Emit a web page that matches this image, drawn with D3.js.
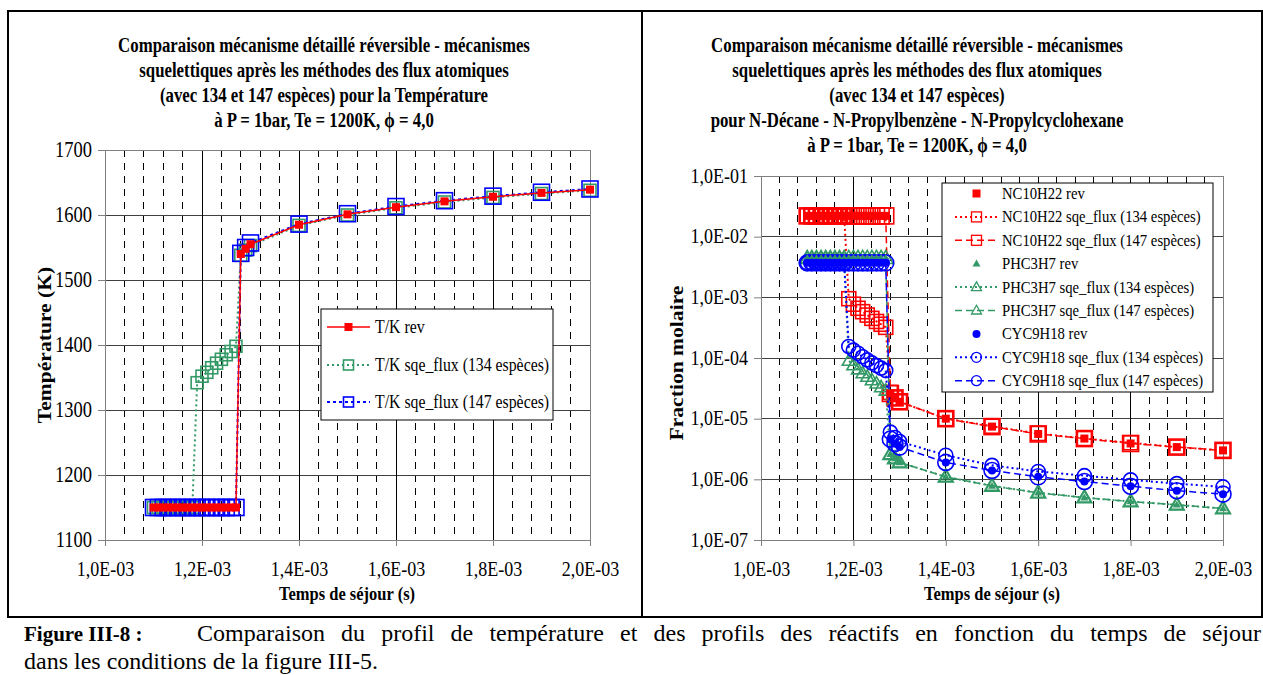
<!DOCTYPE html>
<html><head><meta charset="utf-8">
<script src="https://cdn.jsdelivr.net/npm/d3@7"></script>
<style>
body{margin:0;background:#fff}
svg{display:block}
text{font-family:"Liberation Serif","Times New Roman",serif;fill:#000}
</style>
</head><body>
<svg id="c" width="1263" height="675"></svg>
<script>
// ---------- data ----------
const time = [1.10e-3,1.11e-3,1.12e-3,1.13e-3,1.14e-3,1.15e-3,1.16e-3,1.17e-3,1.18e-3,1.19e-3,1.20e-3,1.21e-3,1.22e-3,1.23e-3,1.24e-3,1.25e-3,1.26e-3,1.27e-3,1.28e-3,1.29e-3,1.30e-3,1.40e-3,1.50e-3,1.60e-3,1.70e-3,1.80e-3,1.90e-3,2.00e-3];

const tempRev = [1150,1150,1150,1150,1150,1150,1150,1150,1150,1150,1150,1150,1150,1150,1150,1150,1150,1150,1540,1548,1555,1585,1601,1612,1621,1628,1634,1639];
const temp134 = [1150,1150,1150,1150,1150,1150,1150,1150,1150,1342,1352,1358,1365,1372,1378,1385,1390,1398,1538,1546,1553,1584,1600,1611,1620,1627,1633,1638];
const temp147 = [1150,1150,1150,1150,1150,1150,1150,1150,1150,1150,1150,1150,1150,1150,1150,1150,1150,1150,1541,1550,1557,1586,1602,1613,1622,1629,1635,1640];

const nc10Rev = [2.2e-2,2.2e-2,2.2e-2,2.2e-2,2.2e-2,2.2e-2,2.2e-2,2.2e-2,2.2e-2,2.2e-2,2.2e-2,2.2e-2,2.2e-2,2.2e-2,2.2e-2,2.2e-2,2.2e-2,2.2e-2,2.6e-5,2.2e-5,1.9e-5,1.0e-5,7.4e-6,5.6e-6,4.7e-6,3.9e-6,3.4e-6,3.0e-6];
const nc10_134 = [2.2e-2,2.2e-2,2.2e-2,2.2e-2,2.2e-2,2.2e-2,2.2e-2,2.2e-2,2.2e-2,9.5e-4,7.7e-4,6.6e-4,5.8e-4,5.1e-4,4.5e-4,4.0e-4,3.6e-4,3.2e-4,2.7e-5,2.2e-5,1.9e-5,1.0e-5,7.5e-6,5.7e-6,4.7e-6,4.0e-6,3.4e-6,3.0e-6];
const nc10_147 = [2.2e-2,2.2e-2,2.2e-2,2.2e-2,2.2e-2,2.2e-2,2.2e-2,2.2e-2,2.2e-2,2.2e-2,2.2e-2,2.2e-2,2.2e-2,2.2e-2,2.2e-2,2.2e-2,2.2e-2,2.2e-2,2.6e-5,2.2e-5,1.9e-5,1.0e-5,7.4e-6,5.6e-6,4.7e-6,3.9e-6,3.4e-6,3.0e-6];

const phRev = [4.4e-3,4.4e-3,4.4e-3,4.4e-3,4.4e-3,4.4e-3,4.4e-3,4.4e-3,4.4e-3,4.4e-3,4.4e-3,4.4e-3,4.4e-3,4.4e-3,4.4e-3,4.4e-3,4.4e-3,4.4e-3,2.6e-6,2.2e-6,1.9e-6,1.1e-6,7.8e-7,6.0e-7,5.0e-7,4.3e-7,3.8e-7,3.3e-7];
const ph_134 = [4.4e-3,4.4e-3,4.4e-3,4.4e-3,4.4e-3,4.4e-3,4.4e-3,4.4e-3,4.4e-3,9.0e-5,7.6e-5,6.5e-5,5.6e-5,4.9e-5,4.3e-5,3.8e-5,3.3e-5,2.9e-5,2.6e-6,2.2e-6,1.9e-6,1.1e-6,7.8e-7,6.0e-7,5.0e-7,4.3e-7,3.8e-7,3.3e-7];
const ph_147 = [4.4e-3,4.4e-3,4.4e-3,4.4e-3,4.4e-3,4.4e-3,4.4e-3,4.4e-3,4.4e-3,4.4e-3,4.4e-3,4.4e-3,4.4e-3,4.4e-3,4.4e-3,4.4e-3,4.4e-3,4.4e-3,2.6e-6,2.2e-6,1.9e-6,1.1e-6,7.8e-7,6.0e-7,5.0e-7,4.3e-7,3.8e-7,3.3e-7];

const cyRev = [3.7e-3,3.7e-3,3.7e-3,3.7e-3,3.7e-3,3.7e-3,3.7e-3,3.7e-3,3.7e-3,3.7e-3,3.7e-3,3.7e-3,3.7e-3,3.7e-3,3.7e-3,3.7e-3,3.7e-3,3.7e-3,4.6e-6,3.9e-6,3.4e-6,1.9e-6,1.4e-6,1.1e-6,9.2e-7,7.7e-7,6.5e-7,5.7e-7];
const cy_134 = [3.7e-3,3.7e-3,3.7e-3,3.7e-3,3.7e-3,3.7e-3,3.7e-3,3.7e-3,3.7e-3,1.55e-4,1.35e-4,1.2e-4,1.05e-4,9.3e-5,8.3e-5,7.5e-5,6.8e-5,6.2e-5,6.0e-6,4.9e-6,4.2e-6,2.5e-6,1.7e-6,1.35e-6,1.15e-6,9.8e-7,8.5e-7,7.5e-7];
const cy_147 = [3.7e-3,3.7e-3,3.7e-3,3.7e-3,3.7e-3,3.7e-3,3.7e-3,3.7e-3,3.7e-3,3.7e-3,3.7e-3,3.7e-3,3.7e-3,3.7e-3,3.7e-3,3.7e-3,3.7e-3,3.7e-3,4.6e-6,3.9e-6,3.4e-6,1.9e-6,1.4e-6,1.1e-6,9.2e-7,7.7e-7,6.5e-7,5.7e-7];

const xMajor = [1.0e-3,1.2e-3,1.4e-3,1.6e-3,1.8e-3,2.0e-3];
const xTickLabels = ["1,0E-03","1,2E-03","1,4E-03","1,6E-03","1,8E-03","2,0E-03"];
const tempTicks = [1100,1200,1300,1400,1500,1600,1700];
const tempTickLabels = ["1100","1200","1300","1400","1500","1600","1700"];
const fracTicks = [1e-7,1e-6,1e-5,1e-4,1e-3,1e-2,1e-1];
const fracTickLabels = ["1,0E-07","1,0E-06","1,0E-05","1,0E-04","1,0E-03","1,0E-02","1,0E-01"];

const leftTitle = ["Comparaison mécanisme détaillé réversible - mécanismes","squelettiques après les méthodes des flux atomiques","(avec 134 et 147 espèces) pour la Température","à P = 1bar, Te = 1200K, \u03d5 = 4,0"];
const rightTitle = ["Comparaison mécanisme détaillé réversible - mécanismes","squelettiques après les méthodes des flux atomiques","(avec 134 et 147 espèces)","pour N-Décane - N-Propylbenzène - N-Propylcyclohexane","à P = 1bar, Te = 1200K, \u03d5 = 4,0"];
const leftLegend = ["T/K rev","T/K sqe_flux (134 espèces)","T/K sqe_flux (147 espèces)"];
const rightLegend = ["NC10H22 rev","NC10H22 sqe_flux (134 espèces)","NC10H22 sqe_flux (147 espèces)","PHC3H7 rev","PHC3H7 sqe_flux (134 espèces)","PHC3H7 sqe_flux (147 espèces)","CYC9H18 rev","CYC9H18 sqe_flux (134 espèces)","CYC9H18 sqe_flux (147 espèces)"];

const RED="#ff0000", GREEN="#339966", BLUE="#0000ff";
const SY = 1.2; // vertical stretch of the chart texts

// ---------- helpers ----------
const svg = d3.select("#c");

function stext(parent, x, y, str, size, opts){
  opts = opts||{};
  const k = opts.sy || SY;
  const t = parent.append("text")
    .attr("transform", opts.rotate ? `translate(${x},${y}) rotate(-90) scale(${k},1)` : `translate(${x},${y}) scale(1,${k})`)
    .attr("font-size", size).text(str);
  if(opts.bold) t.attr("font-weight","bold");
  if(opts.anchor) t.attr("text-anchor",opts.anchor);
  return t;
}

function marker(g, shape, cx, cy, size, color, filled, sw){
  sw = sw||1.6;
  if(shape==="square"){
    g.append("rect").attr("x",cx-size/2).attr("y",cy-size/2).attr("width",size).attr("height",size)
     .attr("fill",filled?color:"none").attr("stroke",color).attr("stroke-width",filled?0:sw);
  } else if(shape==="circle"){
    g.append("circle").attr("cx",cx).attr("cy",cy).attr("r",size/2)
     .attr("fill",filled?color:"none").attr("stroke",color).attr("stroke-width",filled?0:sw);
  } else {
    const h = size*0.87;
    const p = `M${cx},${cy-h*0.6}L${cx+size/2},${cy+h*0.4}L${cx-size/2},${cy+h*0.4}Z`;
    g.append("path").attr("d",p)
     .attr("fill",filled?color:"none").attr("stroke",color).attr("stroke-width",filled?0:sw);
  }
}

function series(g, x, y, ys, o){
  const pts = time.map((t,i)=>[x(t),y(ys[i])]);
  if(o.dash!==null){
    g.append("path").attr("d",d3.line()(pts)).attr("fill","none")
     .attr("stroke",o.color).attr("stroke-width",o.lw||1.5)
     .attr("stroke-dasharray",o.dash||null);
  }
  pts.forEach(p=>marker(g,o.shape,p[0],p[1],o.size,o.color,o.filled,o.sw));
}

function frame(g, x, y, yTicks, yLabels, yFont){
  const [x0,x1]=x.range(), [y1,y0]=y.range();
  const grid = g.append("g").attr("shape-rendering","crispEdges");
  d3.range(1,25).filter(i=>i%5!==0).forEach(i=>{
    const v = 1e-3 + i*0.04e-3;
    grid.append("line").attr("x1",x(v)).attr("x2",x(v)).attr("y1",y0).attr("y2",y1)
      .attr("stroke","#000").attr("stroke-width",1).attr("stroke-dasharray","7,6");
  });
  yTicks.forEach(v=>{
    grid.append("line").attr("x1",x0).attr("x2",x1).attr("y1",y(v)).attr("y2",y(v))
      .attr("stroke","#404040").attr("stroke-width",1);
  });
  xMajor.forEach(v=>{
    grid.append("line").attr("x1",x(v)).attr("x2",x(v)).attr("y1",y0).attr("y2",y1)
      .attr("stroke","#000").attr("stroke-width",1);
  });
  grid.append("rect").attr("x",x0).attr("y",y0).attr("width",x1-x0).attr("height",y1-y0)
    .attr("fill","none").attr("stroke","#808080").attr("stroke-width",1);

  const ax = g.append("g").attr("transform",`translate(0,${y1})`)
    .call(d3.axisBottom(x).tickValues(xMajor).tickFormat((d,i)=>xTickLabels[i]).tickSize(6).tickSizeOuter(0));
  ax.select(".domain").attr("stroke","#808080");
  ax.selectAll(".tick line").attr("stroke","#808080");
  ax.selectAll(".tick text").attr("font-size",18).attr("font-family","Liberation Serif")
    .attr("y",null).attr("dy",null).attr("transform",`translate(0,36) scale(1,${SY})`);
  const ay = g.append("g").attr("transform",`translate(${x0},0)`)
    .call(d3.axisLeft(y).tickValues(yTicks).tickFormat((d,i)=>yLabels[i]).tickSize(7).tickSizeOuter(0));
  ay.select(".domain").attr("stroke","#808080");
  ay.selectAll(".tick line").attr("stroke","#808080");
  ay.selectAll(".tick text").attr("font-size",yFont).attr("font-family","Liberation Serif")
    .attr("x",null).attr("dy",null).attr("transform",`translate(-13,6) scale(1,${SY})`);
}

function title(parent, lines, cx, y0){
  lines.forEach((l,i)=>stext(parent, cx, y0+i*25, l, 16.8, {bold:true, anchor:"middle"}));
}

// ---------- outer frame ----------
svg.append("rect").attr("x",8).attr("y",11).attr("width",1262-8).attr("height",617-11)
  .attr("fill","none").attr("stroke","#000").attr("stroke-width",2);
svg.append("line").attr("x1",642).attr("x2",642).attr("y1",11).attr("y2",617)
  .attr("stroke","#000").attr("stroke-width",2);

// ---------- left chart ----------
const xL = d3.scaleLinear().domain([1.0e-3,2.0e-3]).range([105,590]);
const yL = d3.scaleLinear().domain([1100,1700]).range([540,150]);
const gL = svg.append("g");
frame(gL, xL, yL, tempTicks, tempTickLabels, 18.5);
title(gL, leftTitle, 324, 52);
series(gL, xL, yL, temp134, {color:GREEN, dash:"2,3", lw:2, shape:"square", size:12, filled:false});
series(gL, xL, yL, temp147, {color:BLUE, dash:"3,3", lw:2, shape:"square", size:16, filled:false});
series(gL, xL, yL, tempRev, {color:RED, dash:"", lw:1.5, shape:"square", size:8, filled:true});

stext(gL, 51, 345, "Température (K)", 18, {rotate:true, bold:true, anchor:"middle"});
stext(gL, 347, 600, "Temps de séjour (s)", 16.5, {bold:true, anchor:"middle"});

// left legend
const lgL = gL.append("g");
lgL.append("rect").attr("x",321).attr("y",309).attr("width",232).attr("height",111)
  .attr("fill","#fff").attr("stroke","#000").attr("stroke-width",1);
const legLStyles = [
  {color:RED, dash:"", lw:1.5, shape:"square", size:8, filled:true},
  {color:GREEN, dash:"2,3", lw:2, shape:"square", size:10, filled:false},
  {color:BLUE, dash:"3,3", lw:2, shape:"square", size:10, filled:false}];
leftLegend.forEach((t,i)=>{
  const yy = [327,365,402][i], s=legLStyles[i];
  lgL.append("line").attr("x1",327).attr("x2",370).attr("y1",yy).attr("y2",yy)
    .attr("stroke",s.color).attr("stroke-width",s.lw).attr("stroke-dasharray",s.dash||null);
  marker(lgL, s.shape, 348.5, yy, s.size, s.color, s.filled);
  stext(lgL, 375, yy+6, t, 15.8);
});

// ---------- right chart ----------
const xR = d3.scaleLinear().domain([1.0e-3,2.0e-3]).range([761,1223]);
const yR = d3.scaleLog().domain([1e-7,1e-1]).range([540,176]);
const gR = svg.append("g");
frame(gR, xR, yR, fracTicks, fracTickLabels, 18);
title(gR, rightTitle, 917, 52);

const rStyles = [
  {ys:nc10Rev, color:RED, dash:null, shape:"square", size:8, filled:true},
  {ys:nc10_134, color:RED, dash:"2,3", lw:2, shape:"square", size:14, filled:false},
  {ys:nc10_147, color:RED, dash:"7,4", lw:1.5, shape:"square", size:16, filled:false},
  {ys:phRev, color:GREEN, dash:null, shape:"triangle", size:8, filled:true},
  {ys:ph_134, color:GREEN, dash:"2,3", lw:2, shape:"triangle", size:13, filled:false},
  {ys:ph_147, color:GREEN, dash:"7,4", lw:1.5, shape:"triangle", size:15, filled:false},
  {ys:cyRev, color:BLUE, dash:null, shape:"circle", size:8, filled:true},
  {ys:cy_134, color:BLUE, dash:"2,3", lw:2, shape:"circle", size:14, filled:false},
  {ys:cy_147, color:BLUE, dash:"7,4", lw:1.5, shape:"circle", size:16, filled:false}];
[1,2,4,5,7,8,0,3,6].forEach(i=>series(gR, xR, yR, rStyles[i].ys, rStyles[i]));

stext(gR, 683, 363, "Fraction molaire", 18, {rotate:true, bold:true, anchor:"middle"});
stext(gR, 992, 600, "Temps de séjour (s)", 16.5, {bold:true, anchor:"middle"});

// right legend
const lgR = gR.append("g");
lgR.append("rect").attr("x",942).attr("y",183).attr("width",271).attr("height",209)
  .attr("fill","#fff").attr("stroke","#000").attr("stroke-width",1);
rightLegend.forEach((t,i)=>{
  const yy = 193.5 + i*23.4, s = rStyles[i];
  if(s.dash!==null){
    lgR.append("line").attr("x1",955).attr("x2",997).attr("y1",yy).attr("y2",yy)
      .attr("stroke",s.color).attr("stroke-width",s.lw).attr("stroke-dasharray",s.dash);
  }
  marker(lgR, s.shape, 976.5, yy, s.filled?8:10, s.color, s.filled, 1.3);
  stext(lgR, 1002, yy+5.5, t, 14.7);
});

// ---------- caption ----------
stext(svg, 24, 641, "Figure III-8 :", 21, {bold:true, sy:1.0001});
const cap1 = stext(svg, 197, 641, "Comparaison du profil de température et des profils des réactifs en fonction du temps de séjour", 24, {sy:1.0001});
const natural = cap1.node().getComputedTextLength();
const nSpaces = cap1.text().split(" ").length - 1;
const extra = Math.max(0, (1261 - 197 - natural) / nSpaces);
cap1.attr("word-spacing", extra);
stext(svg, 24, 669, "dans les conditions de la figure III-5.", 24, {sy:1.0001});
</script>
</body></html>
